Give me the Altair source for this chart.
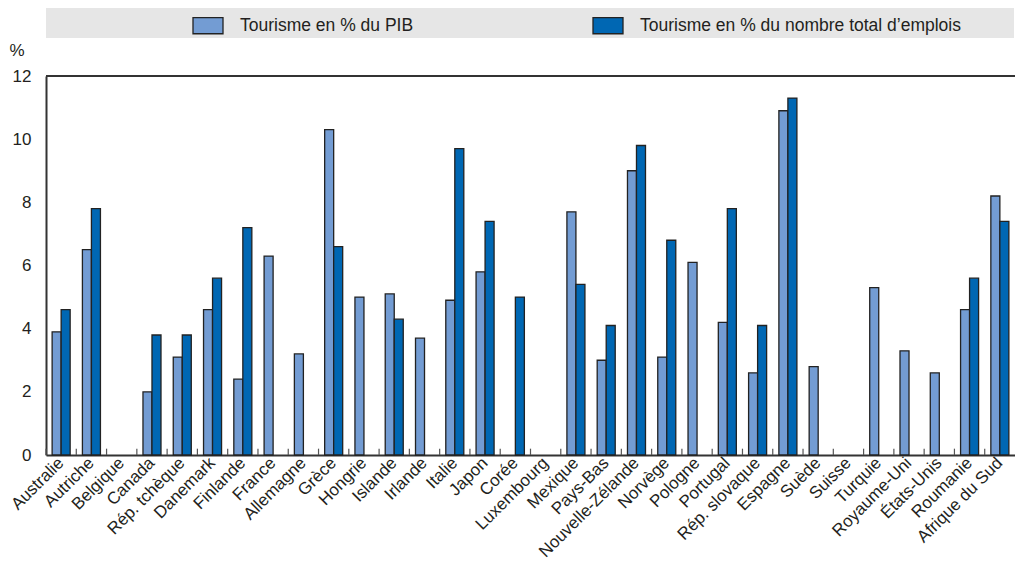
import altair as alt
import pandas as pd

countries = ["Australie", "Autriche", "Belgique", "Canada", "Rép. tchèque", "Danemark",
             "Finlande", "France", "Allemagne", "Grèce", "Hongrie", "Islande", "Irlande",
             "Italie", "Japon", "Corée", "Luxembourg", "Mexique", "Pays-Bas",
             "Nouvelle-Zélande", "Norvège", "Pologne", "Portugal", "Rép. slovaque",
             "Espagne", "Suède", "Suisse", "Turquie", "Royaume-Uni", "États-Unis",
             "Roumanie", "Afrique du Sud"]
pib = [3.9, 6.5, None, 2.0, 3.1, 4.6, 2.4, 6.3, 3.2, 10.3, 5.0, 5.1, 3.7, 4.9, 5.8, None,
       None, 7.7, 3.0, 9.0, 3.1, 6.1, 4.2, 2.6, 10.9, 2.8, None, 5.3, 3.3, 2.6, 4.6, 8.2]
emploi = [4.6, 7.8, None, 3.8, 3.8, 5.6, 7.2, None, None, 6.6, None, 4.3, None, 9.7, 7.4, 5.0,
          None, 5.4, 4.1, 9.8, 6.8, None, 7.8, 4.1, 11.3, None, None, None, None, None, 5.6, 7.4]
series = ["Tourisme en % du PIB", "Tourisme en % du nombre total d’emplois"]
colors = ["#739CD3", "#0067B3"]
y_ticks = [0, 2, 4, 6, 8, 10, 12]

rows = []
for c, a, b in zip(countries, pib, emploi):
    if a is not None:
        rows.append({"pays": c, "serie": series[0], "valeur": a})
    if b is not None:
        rows.append({"pays": c, "serie": series[1], "valeur": b})
bars_df = pd.DataFrame(rows)
ticks_df = pd.DataFrame({"pays": countries})

FONT = "Liberation Sans"
TXT = "#231F20"
FS = 17

x_enc = alt.X("pays:N", sort=countries, title=None,
              scale=alt.Scale(paddingInner=0, paddingOuter=0),
              axis=alt.Axis(labelAngle=-45, labelAlign="right", labelBaseline="middle",
                            labelPadding=5, ticks=False, domain=True, domainColor="#333333",
                            domainWidth=2, labelOverlap=False, labelLimit=300,
                            labelFontSize=FS, labelColor=TXT, labelFont=FONT))

bars = alt.Chart(bars_df).mark_bar(stroke="#222222", strokeWidth=1.3).encode(
    x=x_enc,
    xOffset=alt.XOffset("serie:N", sort=series,
                        scale=alt.Scale(domain=series, paddingInner=0, paddingOuter=0.68)),
    y=alt.Y("valeur:Q", title="%",
            scale=alt.Scale(domain=[0, 12], nice=False),
            axis=alt.Axis(values=y_ticks, grid=True, gridColor="white", gridWidth=1.6,
                          ticks=False, domain=True, domainColor="#333333", domainWidth=2,
                          labelPadding=15, labelFontSize=FS, labelColor=TXT, labelFont=FONT,
                          titleAngle=0, titleAlign="left", titleBaseline="alphabetic",
                          titleX=-37, titleY=-21, titleFontSize=FS, titleFontWeight="normal",
                          titleColor=TXT, titleFont=FONT)),
    color=alt.Color("serie:N", sort=series,
                    scale=alt.Scale(domain=series, range=colors),
                    legend=alt.Legend(title="\u00a0", titleOrient="right", titlePadding=52,
                                      orient="none", legendX=0, legendY=-68,
                                      direction="horizontal", fillColor="#E6E6E6",
                                      padding=1.5, symbolOffset=144.5, columnPadding=34,
                                      symbolType="M-1,-0.54L1,-0.54L1,0.54L-1,0.54Z",
                                      symbolSize=900, symbolStrokeColor="#222222",
                                      symbolStrokeWidth=1.3, labelOffset=16,
                                      labelFontSize=17.5, labelColor=TXT, labelFont=FONT,
                                      labelLimit=600)),
)

ticks = alt.Chart(ticks_df).mark_rule(color="#555555", strokeWidth=1.2).encode(
    x=alt.X("pays:N", sort=countries, bandPosition=0),
    y=alt.datum(0),
    y2=alt.datum(0.2),
)

top = alt.Chart(ticks_df).mark_rule(color="#333333", strokeWidth=2).encode(
    y=alt.datum(12),
)

chart = alt.layer(bars, ticks, top).properties(
    width=969, height=379,
    autosize=alt.AutoSizeParams(type="none"),
    padding={"left": 38, "top": 68, "right": 0, "bottom": 106},
).configure_view(fill="#E0E7F3", stroke="transparent").configure(
    font=FONT,
)

chart.save("out.html", embed_options={"renderer": "svg", "actions": False})
